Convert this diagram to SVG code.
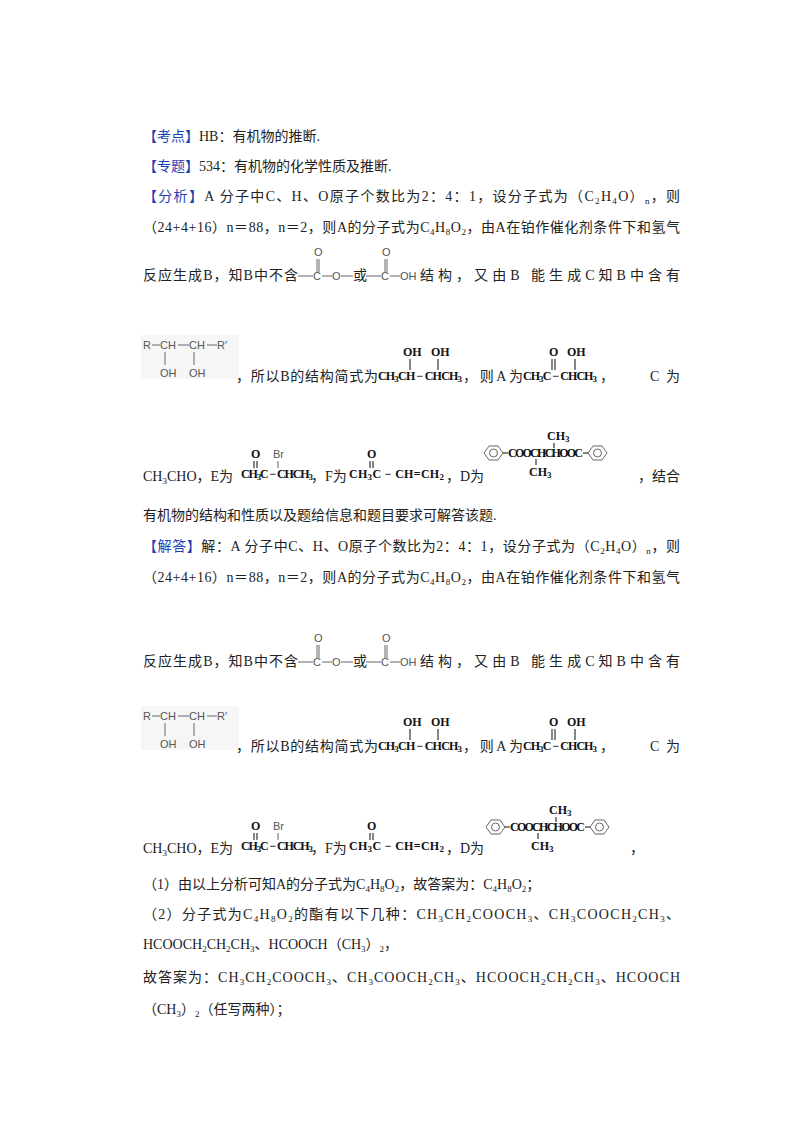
<svg xmlns="http://www.w3.org/2000/svg" width="800" height="1132" viewBox="0 0 800 1132">
<style>
.t{font-family:"Liberation Serif","Noto Sans CJK SC",serif;font-size:14px;fill:#222}
.b{fill:#1c3fb5}
.s{font-family:"Liberation Serif",serif;font-size:12px;font-weight:bold;fill:#111}
.g{font-family:"Liberation Sans",sans-serif;font-size:11px;fill:#555}
.l{stroke:#333;stroke-width:1.2;fill:none}
.gl{stroke:#666;stroke-width:1;fill:none}
.sub{font-size:9px}
</style>
<defs>
<g id="ester"><text class="g" x="16" y="-24">O</text><line class="gl" x1="19" y1="-21" x2="19" y2="-8"/><line class="gl" x1="21" y1="-21" x2="21" y2="-8"/><line class="gl" x1="0" y1="-4" x2="15" y2="-4"/><text class="g" x="15" y="0">C</text><line class="gl" x1="24" y1="-4" x2="34" y2="-4"/><text class="g" x="34" y="0">O</text><line class="gl" x1="43" y1="-4" x2="55" y2="-4"/></g>
<g id="acid"><text class="g" x="16" y="-24">O</text><line class="gl" x1="19" y1="-21" x2="19" y2="-8"/><line class="gl" x1="21" y1="-21" x2="21" y2="-8"/><line class="gl" x1="0" y1="-4" x2="15" y2="-4"/><text class="g" x="15" y="0">C</text><line class="gl" x1="24" y1="-4" x2="34" y2="-4"/><text class="g" x="34" y="0">OH</text></g>
<g id="diol"><rect x="-2" y="-14" width="98" height="44" fill="#f6f6f6"/><text class="g" x="0" y="0">R</text><line class="gl" x1="9" y1="-4" x2="17" y2="-4"/><text class="g" x="17" y="0">CH</text><line class="gl" x1="35" y1="-4" x2="46" y2="-4"/><text class="g" x="46" y="0">CH</text><line class="gl" x1="64" y1="-4" x2="74" y2="-4"/><text class="g" x="74" y="0">R′</text><line class="gl" x1="22" y1="3" x2="22" y2="16"/><line class="gl" x1="51" y1="3" x2="51" y2="16"/><text class="g" x="17" y="28">OH</text><text class="g" x="46" y="28">OH</text></g>
<g id="B"><text class="s" x="25" y="-24">OH</text><text class="s" x="53" y="-24">OH</text><line class="l" x1="32" y1="-21" x2="32" y2="-10"/><line class="l" x1="60" y1="-21" x2="60" y2="-10"/><text class="s" x="0" y="0" textLength="84">CH<tspan class="sub" dy="2">3</tspan><tspan dy="-2">CH − CHCH</tspan><tspan class="sub" dy="2">3</tspan></text></g>
<g id="A"><text class="s" x="26" y="-24">O</text><text class="s" x="44" y="-24">OH</text><line class="l" x1="29" y1="-21" x2="29" y2="-10"/><line class="l" x1="32" y1="-21" x2="32" y2="-10"/><line class="l" x1="52" y1="-21" x2="52" y2="-10"/><text class="s" x="0" y="0" textLength="74">CH<tspan class="sub" dy="2">3</tspan><tspan dy="-2">C − CHCH</tspan><tspan class="sub" dy="2">3</tspan></text></g>
<g id="E"><text class="s" x="10" y="-20">O</text><text class="g" x="32" y="-20">Br</text><line class="l" x1="13" y1="-17" x2="13" y2="-10"/><line class="l" x1="16" y1="-17" x2="16" y2="-10"/><line class="gl" x1="37" y1="-17" x2="37" y2="-10"/><text class="s" x="0" y="0" textLength="72">CH<tspan class="sub" dy="2">3</tspan><tspan dy="-2">C − CHCH</tspan><tspan class="sub" dy="2">3</tspan></text></g>
<g id="F"><text class="s" x="18" y="-20">O</text><line class="l" x1="21" y1="-17" x2="21" y2="-10"/><line class="l" x1="24" y1="-17" x2="24" y2="-10"/><text class="s" x="0" y="0" textLength="95">CH<tspan class="sub" dy="2">3</tspan><tspan dy="-2">C − CH=CH</tspan><tspan class="sub" dy="2">2</tspan></text></g>
<g id="benz"><polygon class="gl" points="0,0 5,-7 14,-7 19,0 14,7 5,7"/><circle class="gl" cx="9.5" cy="0" r="4"/></g>
<g id="D"><use href="#benz" x="0" y="0"/><line class="l" x1="19" y1="0" x2="24" y2="0"/><text class="s" x="24" y="4" textLength="75">COOCHCHOOC</text><line class="l" x1="99" y1="0" x2="104" y2="0"/><use href="#benz" x="104" y="0"/><text class="s" x="63" y="-13">CH<tspan class="sub" dy="2">3</tspan></text><line class="l" x1="70" y1="-10" x2="70" y2="-5"/><line class="l" x1="52" y1="6" x2="52" y2="12"/><text class="s" x="45" y="23">CH<tspan class="sub" dy="2">3</tspan></text></g>
</defs>

<g id="text">
<text class="t" x="143" y="141"><tspan class="b">【考点】</tspan>HB：有机物的推断.</text>
<text class="t" x="143" y="171"><tspan class="b">【专题】</tspan>534：有机物的化学性质及推断.</text>
<text class="t" x="143" y="201" textLength="537"><tspan class="b">【分析】</tspan>A 分子中C、H、O原子个数比为2：4：1，设分子式为（C<tspan class="sub" dy="3">2</tspan><tspan dy="-3">H</tspan><tspan class="sub" dy="3">4</tspan><tspan dy="-3">O）</tspan><tspan class="sub" dy="3">n</tspan><tspan dy="-3">，则</tspan></text>
<text class="t" x="143" y="232" textLength="537">（24+4+16）n＝88，n＝2，则A的分子式为C<tspan class="sub" dy="3">4</tspan><tspan dy="-3">H</tspan><tspan class="sub" dy="3">8</tspan><tspan dy="-3">O</tspan><tspan class="sub" dy="3">2</tspan><tspan dy="-3">，由A在铂作催化剂条件下和氢气</tspan></text>
<text class="t" x="143" y="280" textLength="155">反应生成B，知B中不含</text>
<use href="#ester" x="298" y="280"/>
<text class="t" x="353" y="280">或</text>
<use href="#acid" x="366" y="280"/>
<text class="t" x="420" y="280" textLength="260">结构，又由B 能生成C知B中含有</text>
<use href="#diol" x="143" y="349"/>
<text class="t" x="236" y="381" textLength="142">，所以B的结构简式为</text>
<use href="#B" x="378" y="380"/>
<text class="t" x="463" y="381" textLength="60">，则A为</text>
<use href="#A" x="523" y="380"/>
<text class="t" x="600" y="381">，</text>
<text class="t" x="650" y="381" textLength="30">C为</text>
<text class="t" x="143" y="481">CH<tspan class="sub" dy="3">3</tspan><tspan dy="-3">CHO，E为</tspan></text>
<use href="#E" x="241" y="478"/>
<text class="t" x="311" y="481">，F为</text>
<use href="#F" x="349" y="478"/>
<text class="t" x="446" y="481">，D为</text>
<use href="#D" x="484" y="453"/>
<text class="t" x="638" y="481">，结合</text>
<text class="t" x="143" y="520">有机物的结构和性质以及题给信息和题目要求可解答该题.</text>

<text class="t" x="143" y="551" textLength="537"><tspan class="b">【解答】</tspan>解：A 分子中C、H、O原子个数比为2：4：1，设分子式为（C<tspan class="sub" dy="3">2</tspan><tspan dy="-3">H</tspan><tspan class="sub" dy="3">4</tspan><tspan dy="-3">O）</tspan><tspan class="sub" dy="3">n</tspan><tspan dy="-3">，则</tspan></text>
<text class="t" x="143" y="582" textLength="537">（24+4+16）n＝88，n＝2，则A的分子式为C<tspan class="sub" dy="3">4</tspan><tspan dy="-3">H</tspan><tspan class="sub" dy="3">8</tspan><tspan dy="-3">O</tspan><tspan class="sub" dy="3">2</tspan><tspan dy="-3">，由A在铂作催化剂条件下和氢气</tspan></text>
<text class="t" x="143" y="666" textLength="155">反应生成B，知B中不含</text>
<use href="#ester" x="298" y="666"/>
<text class="t" x="353" y="666">或</text>
<use href="#acid" x="366" y="666"/>
<text class="t" x="420" y="666" textLength="260">结构，又由B 能生成C知B中含有</text>
<use href="#diol" x="143" y="720"/>
<text class="t" x="236" y="751" textLength="142">，所以B的结构简式为</text>
<use href="#B" x="378" y="750"/>
<text class="t" x="463" y="751" textLength="60">，则A为</text>
<use href="#A" x="523" y="750"/>
<text class="t" x="600" y="751">，</text>
<text class="t" x="650" y="751" textLength="30">C为</text>
<text class="t" x="143" y="853">CH<tspan class="sub" dy="3">3</tspan><tspan dy="-3">CHO，E为</tspan></text>
<use href="#E" x="241" y="850"/>
<text class="t" x="311" y="853">，F为</text>
<use href="#F" x="349" y="850"/>
<text class="t" x="446" y="853">，D为</text>
<use href="#D" x="486" y="827"/>
<text class="t" x="630" y="853">，</text>

<text class="t" x="143" y="889">（1）由以上分析可知A的分子式为C<tspan class="sub" dy="3">4</tspan><tspan dy="-3">H</tspan><tspan class="sub" dy="3">8</tspan><tspan dy="-3">O</tspan><tspan class="sub" dy="3">2</tspan><tspan dy="-3">，故答案为：C</tspan><tspan class="sub" dy="3">4</tspan><tspan dy="-3">H</tspan><tspan class="sub" dy="3">8</tspan><tspan dy="-3">O</tspan><tspan class="sub" dy="3">2</tspan><tspan dy="-3">；</tspan></text>
<text class="t" x="143" y="919" textLength="537">（2）分子式为C<tspan class="sub" dy="3">4</tspan><tspan dy="-3">H</tspan><tspan class="sub" dy="3">8</tspan><tspan dy="-3">O</tspan><tspan class="sub" dy="3">2</tspan><tspan dy="-3">的酯有以下几种：CH</tspan><tspan class="sub" dy="3">3</tspan><tspan dy="-3">CH</tspan><tspan class="sub" dy="3">2</tspan><tspan dy="-3">COOCH</tspan><tspan class="sub" dy="3">3</tspan><tspan dy="-3">、CH</tspan><tspan class="sub" dy="3">3</tspan><tspan dy="-3">COOCH</tspan><tspan class="sub" dy="3">2</tspan><tspan dy="-3">CH</tspan><tspan class="sub" dy="3">3</tspan><tspan dy="-3">、</tspan></text>
<text class="t" x="143" y="949">HCOOCH<tspan class="sub" dy="3">2</tspan><tspan dy="-3">CH</tspan><tspan class="sub" dy="3">2</tspan><tspan dy="-3">CH</tspan><tspan class="sub" dy="3">3</tspan><tspan dy="-3">、HCOOCH（CH</tspan><tspan class="sub" dy="3">3</tspan><tspan dy="-3">）</tspan><tspan class="sub" dy="3">2</tspan><tspan dy="-3">，</tspan></text>
<text class="t" x="143" y="982" textLength="537">故答案为：CH<tspan class="sub" dy="3">3</tspan><tspan dy="-3">CH</tspan><tspan class="sub" dy="3">2</tspan><tspan dy="-3">COOCH</tspan><tspan class="sub" dy="3">3</tspan><tspan dy="-3">、CH</tspan><tspan class="sub" dy="3">3</tspan><tspan dy="-3">COOCH</tspan><tspan class="sub" dy="3">2</tspan><tspan dy="-3">CH</tspan><tspan class="sub" dy="3">3</tspan><tspan dy="-3">、HCOOCH</tspan><tspan class="sub" dy="3">2</tspan><tspan dy="-3">CH</tspan><tspan class="sub" dy="3">2</tspan><tspan dy="-3">CH</tspan><tspan class="sub" dy="3">3</tspan><tspan dy="-3">、HCOOCH</tspan></text>
<text class="t" x="143" y="1014">（CH<tspan class="sub" dy="3">3</tspan><tspan dy="-3">）</tspan><tspan class="sub" dy="3">2</tspan><tspan dy="-3">（任写两种）；</tspan></text>
</g>
</svg>
